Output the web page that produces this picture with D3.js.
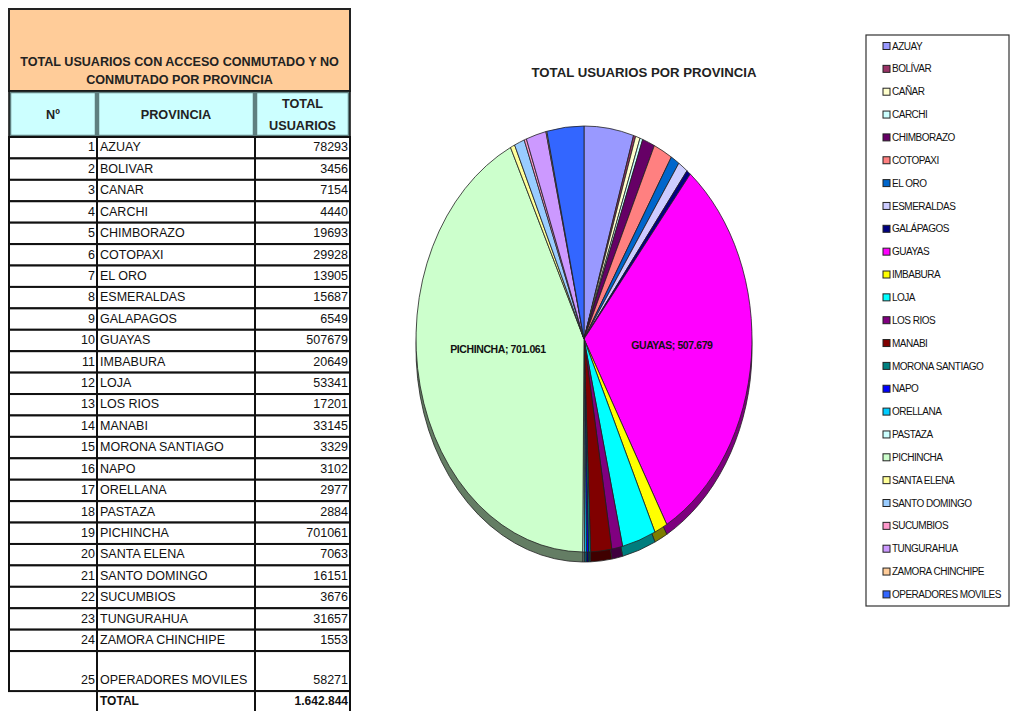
<!DOCTYPE html>
<html>
<head>
<meta charset="utf-8">
<script src="https://cdn.jsdelivr.net/npm/d3@7"></script>
<style>
  html, body { margin: 0; padding: 0; background: #fff; }
  svg { display: block; font-family: "Liberation Sans", Arial, sans-serif; }
  .narrow { font-family: "Liberation Sans Narrow", "Liberation Sans", Arial, sans-serif; }
</style>
</head>
<body>
<svg id="chart" width="1011" height="711"></svg>
<script>
// ---- data ------------------------------------------------------------
const provinciasTabla = ["AZUAY", "BOLIVAR", "CANAR", "CARCHI", "CHIMBORAZO", "COTOPAXI", "EL ORO",
  "ESMERALDAS", "GALAPAGOS", "GUAYAS", "IMBABURA", "LOJA", "LOS RIOS", "MANABI", "MORONA SANTIAGO",
  "NAPO", "ORELLANA", "PASTAZA", "PICHINCHA", "SANTA ELENA", "SANTO DOMINGO", "SUCUMBIOS",
  "TUNGURAHUA", "ZAMORA CHINCHIPE", "OPERADORES MOVILES"];
const provinciasLeyenda = ["AZUAY", "BOLÍVAR", "CAÑAR", "CARCHI", "CHIMBORAZO", "COTOPAXI", "EL ORO",
  "ESMERALDAS", "GALÁPAGOS", "GUAYAS", "IMBABURA", "LOJA", "LOS RIOS", "MANABI", "MORONA SANTIAGO",
  "NAPO", "ORELLANA", "PASTAZA", "PICHINCHA", "SANTA ELENA", "SANTO DOMINGO", "SUCUMBIOS",
  "TUNGURAHUA", "ZAMORA CHINCHIPE", "OPERADORES MOVILES"];
const usuarios = [78293, 3456, 7154, 4440, 19693, 29928, 13905, 15687, 6549, 507679, 20649, 53341,
  17201, 33145, 3329, 3102, 2977, 2884, 701061, 7063, 16151, 3676, 31657, 1553, 58271];
const colores = ["#9999ff", "#993366", "#ffffcc", "#ccffff", "#660066", "#ff8080", "#0066cc",
  "#ccccff", "#000080", "#ff00ff", "#ffff00", "#00ffff", "#800080", "#800000", "#008080",
  "#0000ff", "#00ccff", "#ccffff", "#ccffcc", "#ffff99", "#99ccff", "#ff99cc", "#cc99ff",
  "#ffcc99", "#3366ff"];
const conEtiqueta = ["GUAYAS", "PICHINCHA"];

const tituloTabla = ["TOTAL USUARIOS CON ACCESO CONMUTADO Y NO", "CONMUTADO POR PROVINCIA"];
const tituloGrafico = "TOTAL USUARIOS POR PROVINCIA";

const fmt = d3.formatLocale({ decimal: ",", thousands: ".", grouping: [3], currency: ["$", ""] }).format(",d");

const svg = d3.select("#chart");

// ---- table -----------------------------------------------------------
const colX = [9, 97, 255, 350];
const topTitle = 9, topHead = 91, topRows = 137, rowH = 21.42, lastRowH = 40;
const rowsY = provinciasTabla.map((d, i) => topRows + i * rowH);
const rowsH = provinciasTabla.map((d, i) => i === provinciasTabla.length - 1 ? lastRowH : rowH);
const totalY = rowsY[rowsY.length - 1] + lastRowH;

const tbl = svg.append("g").attr("class", "tabla");

tbl.append("rect")
  .attr("x", colX[0]).attr("y", topTitle)
  .attr("width", colX[3] - colX[0]).attr("height", topHead - topTitle)
  .attr("fill", "#ffcc99").attr("stroke", "#222").attr("stroke-width", 2);
tbl.selectAll("text.titulo").data(tituloTabla).join("text")
  .attr("class", "titulo")
  .attr("x", (colX[0] + colX[3]) / 2).attr("y", (d, i) => 65.5 + i * 18)
  .attr("text-anchor", "middle").attr("font-size", 12.6).attr("font-weight", "bold")
  .attr("fill", "#222").text(d => d);

// header cells
const headers = [["Nº"], ["PROVINCIA"], ["TOTAL", "USUARIOS"]];
headers.forEach((lines, c) => {
  tbl.append("rect")
    .attr("x", colX[c] + 1).attr("y", topHead + 1)
    .attr("width", colX[c + 1] - colX[c] - 2).attr("height", topRows - topHead - 2)
    .attr("fill", "#ccffff").attr("stroke", "#5f7f7f").attr("stroke-width", 2.5);
  const mid = (colX[c] + colX[c + 1]) / 2;
  lines.forEach((t, k) => {
    tbl.append("text")
      .attr("x", mid)
      .attr("y", (topHead + topRows) / 2 + 4.5 + (lines.length === 1 ? 0 : (k - 0.5) * 22))
      .attr("text-anchor", "middle").attr("font-size", 12.7).attr("font-weight", "bold")
      .attr("fill", "#222").text(t);
  });
});
tbl.append("rect")
  .attr("x", colX[0]).attr("y", topHead)
  .attr("width", colX[3] - colX[0]).attr("height", topRows - topHead)
  .attr("fill", "none").attr("stroke", "#111").attr("stroke-width", 1.5);

// body rows
const filas = tbl.selectAll("g.fila").data(provinciasTabla).join("g").attr("class", "fila");
[0, 1, 2].forEach(c => {
  filas.append("rect")
    .attr("x", colX[c]).attr("y", (d, i) => rowsY[i])
    .attr("width", colX[c + 1] - colX[c]).attr("height", (d, i) => rowsH[i])
    .attr("fill", "#fff").attr("stroke", "#111").attr("stroke-width", 2);
});
filas.append("text")
  .attr("x", colX[1] - 2).attr("y", (d, i) => rowsY[i] + rowsH[i] - 7)
  .attr("text-anchor", "end").attr("font-size", 12.5).attr("fill", "#111")
  .text((d, i) => i + 1);
filas.append("text")
  .attr("x", colX[1] + 3).attr("y", (d, i) => rowsY[i] + rowsH[i] - 7)
  .attr("font-size", 12.5).attr("fill", "#111")
  .text(d => d);
filas.append("text")
  .attr("x", colX[3] - 2).attr("y", (d, i) => rowsY[i] + rowsH[i] - 7)
  .attr("text-anchor", "end").attr("font-size", 12.5).attr("fill", "#111")
  .text((d, i) => usuarios[i]);

// total row
[1, 2].forEach(c => {
  tbl.append("rect")
    .attr("x", colX[c]).attr("y", totalY)
    .attr("width", colX[c + 1] - colX[c]).attr("height", rowH)
    .attr("fill", "#fff").attr("stroke", "#111").attr("stroke-width", 2);
});
tbl.append("text").attr("x", colX[1] + 3).attr("y", totalY + 14)
  .attr("font-size", 12).attr("font-weight", "bold").attr("fill", "#111").text("TOTAL");
tbl.append("text").attr("x", colX[3] - 2).attr("y", totalY + 14)
  .attr("text-anchor", "end").attr("font-size", 12).attr("font-weight", "bold").attr("fill", "#111")
  .text(fmt(d3.sum(usuarios)));

// ---- pie -------------------------------------------------------------
const cx = 584, cy = 339, rx = 168, ry = 213, depth = 10;
const datos = provinciasLeyenda.map((n, i) => ({ nombre: n, v: usuarios[i], color: colores[i] }));
const arcos = d3.pie().sort(null).value(d => d.v)(datos);
const arc = d3.arc().innerRadius(0).outerRadius(rx);

svg.append("text")
  .attr("x", 644).attr("y", 77).attr("text-anchor", "middle")
  .attr("font-size", 13.2).attr("font-weight", "bold").attr("fill", "#222")
  .text(tituloGrafico);

const lado = svg.append("g").attr("transform", `translate(${cx},${cy + depth}) scale(1,${ry / rx})`);
lado.selectAll("path").data(arcos).join("path")
  .attr("d", arc)
  .attr("fill", d => d3.color(d.data.color).darker(2))
  .attr("stroke", "#222").attr("stroke-width", 0.8)
  .attr("vector-effect", "non-scaling-stroke");

const tapa = svg.append("g").attr("transform", `translate(${cx},${cy}) scale(1,${ry / rx})`);
tapa.selectAll("path").data(arcos).join("path")
  .attr("d", arc)
  .attr("fill", d => d.data.color)
  .attr("stroke", "#222").attr("stroke-width", 0.8)
  .attr("vector-effect", "non-scaling-stroke");

svg.append("g").selectAll("text")
  .data(arcos.filter(d => conEtiqueta.includes(d.data.nombre)))
  .join("text")
  .attr("x", d => cx + arc.centroid(d)[0] * 1.05)
  .attr("y", d => cy + arc.centroid(d)[1] * ry / rx * 0.25 + 8)
  .attr("text-anchor", "middle").attr("font-size", 10.5).attr("letter-spacing", -0.4)
  .attr("font-weight", "bold").attr("fill", "#111")
  .text(d => `${d.data.nombre}; ${fmt(d.data.v)}`);

// ---- legend ----------------------------------------------------------
const leg = svg.append("g");
const legTop = 46, legStep = 22.85;
leg.append("rect")
  .attr("x", 866).attr("y", 35).attr("width", 143).attr("height", 571)
  .attr("fill", "#fff").attr("stroke", "#333").attr("stroke-width", 1.2);
const items = leg.selectAll("g.item").data(datos).join("g").attr("class", "item")
  .attr("transform", (d, i) => `translate(883,${legTop + i * legStep})`);
items.append("rect")
  .attr("x", 0).attr("y", -3.5).attr("width", 7).attr("height", 7)
  .attr("fill", d => d.color).attr("stroke", "#222").attr("stroke-width", 1);
items.append("text")
  .attr("x", 9).attr("y", 3.6)
  .attr("font-size", 10).attr("letter-spacing", -0.5).attr("fill", "#111")
  .text(d => d.nombre);
</script>
</body>
</html>
